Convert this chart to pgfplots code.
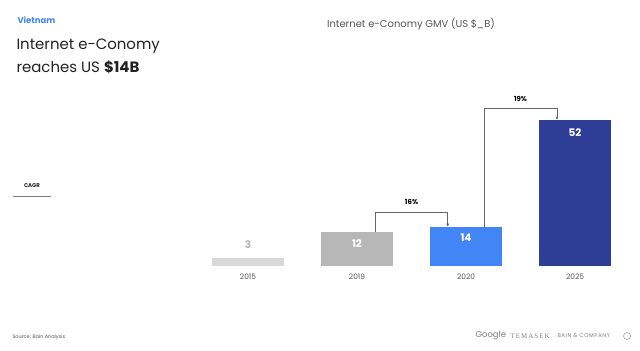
\documentclass[border=0pt]{standalone}
\usepackage{pgfplots}
\pgfplotsset{compat=1.18}
\usetikzlibrary{arrows.meta}
\usepackage{fontspec}
\setmainfont{Poppins}
\newfontfamily\serifspaced[LetterSpace=15]{Liberation Serif}
\newfontfamily\bainfont[LetterSpace=10]{Poppins}
\definecolor{c15}{HTML}{D9D9D9}
\definecolor{c19}{HTML}{B7B7B7}
\definecolor{c20}{HTML}{4285F4}
\definecolor{c25}{HTML}{2E3D95}
\definecolor{gblue}{HTML}{4285F4}
\definecolor{txt}{HTML}{222222}
\definecolor{lbl}{HTML}{555555}
\begin{document}
\begin{tikzpicture}[x=1bp,y=1bp]
\useasboundingbox (0,0) rectangle (640,350);
\fill[white] (0,0) rectangle (640,350);
\begin{axis}[
  at={(193.5bp,84bp)}, anchor=south west,
  scale only axis, width=436bp, height=166bp,
  xmin=-0.5, xmax=3.5, ymin=0, ymax=59.1,
  axis lines=none, clip=false,
  ybar, bar width=72bp, bar shift=0pt,
  xtick=\empty, ytick=\empty,
  /pgf/number format/assume math mode=true,
]
\addplot[fill=c15, draw=none, nodes near coords, every node near coord/.style={font=\fontsize{10.5}{10.5}\selectfont\bfseries, text=c19, anchor=center, yshift=13bp}] coordinates {(0,3)};
\addplot[fill=c19, draw=none, nodes near coords, every node near coord/.style={font=\fontsize{10.5}{10.5}\selectfont\bfseries, text=white, anchor=center, yshift=-11bp}] coordinates {(1,12)};
\addplot[fill=c20, draw=none, nodes near coords, every node near coord/.style={font=\fontsize{10.5}{10.5}\selectfont\bfseries, text=white, anchor=center, yshift=-11bp}] coordinates {(2,14)};
\addplot[fill=c25, draw=none, nodes near coords, every node near coord/.style={font=\fontsize{10.5}{10.5}\selectfont\bfseries, text=white, anchor=center, yshift=-13bp}] coordinates {(3,52)};
% year labels
\node[font=\fontsize{7.5}{7.5}\selectfont, text=lbl] at (axis cs:0,0) [yshift=-11bp] {2015};
\node[font=\fontsize{7.5}{7.5}\selectfont, text=lbl] at (axis cs:1,0) [yshift=-11bp] {2019};
\node[font=\fontsize{7.5}{7.5}\selectfont, text=lbl] at (axis cs:2,0) [yshift=-11bp] {2020};
\node[font=\fontsize{7.5}{7.5}\selectfont, text=lbl] at (axis cs:3,0) [yshift=-11bp] {2025};
% CAGR arrows
\draw[gray!80!black, line width=0.6pt, -{Latex[length=3bp,width=3bp]}] (axis cs:1.165,12) -- (axis cs:1.165,19.2) -- (axis cs:1.832,19.2) -- (axis cs:1.832,14);
\node[font=\fontsize{7}{7}\selectfont\bfseries, text=black] at (axis cs:1.5,19.2) [yshift=10bp] {16\%};
\draw[gray!80!black, line width=0.6pt, -{Latex[length=3bp,width=3bp]}] (axis cs:2.165,14) -- (axis cs:2.165,56.3) -- (axis cs:2.835,56.3) -- (axis cs:2.835,52);
\node[font=\fontsize{7}{7}\selectfont\bfseries, text=black] at (axis cs:2.5,56.3) [yshift=9bp] {19\%};
\end{axis}
% texts
\node[anchor=west, font=\fontsize{8.5}{8.5}\selectfont\bfseries, text=gblue] at (14,330) {Vietnam};
\node[anchor=west, font=\fontsize{15}{15}\selectfont, text=txt] at (13,304) {Internet e-Conomy};
\node[anchor=west, font=\fontsize{15}{15}\selectfont, text=txt] at (13,283) {reaches US \textbf{\$14B}};
\node[font=\fontsize{10}{10}\selectfont, text=lbl] at (411,326) {Internet e-Conomy GMV (US \$\_B)};
\node[font=\fontsize{5.5}{5.5}\selectfont\bfseries, text=txt] at (32,164) {CAGR};
\draw[gray, line width=0.6pt] (13,154) -- (51,154);
\node[anchor=west, font=\fontsize{5}{5}\selectfont, text=lbl] at (9,13) {Source: Bain Analysis};
\node[anchor=west, font=\fontsize{8.5}{8.5}\selectfont, text=gray] at (472,14) {Google};
\node[anchor=west, font=\serifspaced\fontsize{7}{7}\selectfont, text=gray] at (507,14) {TEMASEK};
\node[anchor=west, font=\bainfont\fontsize{5.5}{5.5}\selectfont, text=gray] at (554,14) {BAIN \& COMPANY};
\draw[gray, line width=0.4pt] (627,14) circle (3.5);
\end{tikzpicture}
\end{document}
